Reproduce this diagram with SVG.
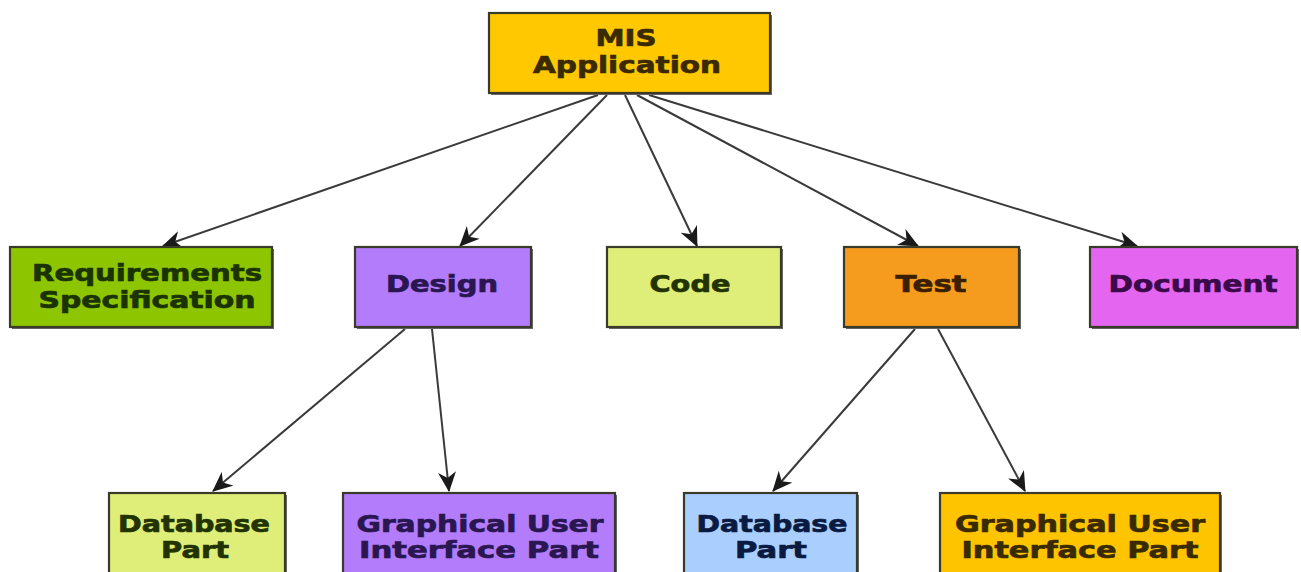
<svg xmlns="http://www.w3.org/2000/svg" width="1301" height="572" viewBox="0 0 1301 572">
  <style>
    .shadow { fill: #6a6a6a; }
    .box { stroke: #3a3a2a; stroke-width: 2.2; }
    .lbl { font-family: "DejaVu Sans", Verdana, "Liberation Sans", sans-serif; font-weight: bold; font-size: 23px; text-anchor: middle; stroke-width: 0.7; }
    .edge { fill: none; stroke: #3a3a3a; stroke-width: 2; marker-end: url(#arrow); }
  </style>
  <defs>
    <marker id="arrow" markerUnits="userSpaceOnUse" markerWidth="22" markerHeight="18" refX="19" refY="9" orient="auto">
      <path d="M0,0 L20,9 L0,18 L6,9 Z" fill="#1a1a1a"/>
    </marker>
  </defs>
  <rect width="1301" height="572" fill="#ffffff"/>

  <!-- connectors -->
  <g id="connectors">
    <line class="edge" x1="598" y1="95" x2="163" y2="246"/>
    <line class="edge" x1="607" y1="95" x2="460" y2="246"/>
    <line class="edge" x1="625" y1="95" x2="697" y2="246"/>
    <line class="edge" x1="637" y1="95" x2="918" y2="246"/>
    <line class="edge" x1="649" y1="95" x2="1137" y2="246"/>
    <line class="edge" x1="405" y1="329" x2="213" y2="491"/>
    <line class="edge" x1="432" y1="329" x2="449" y2="491"/>
    <line class="edge" x1="915" y1="329" x2="773" y2="491"/>
    <line class="edge" x1="938" y1="329" x2="1025" y2="491"/>
  </g>

  <!-- root -->
  <g id="mis">
    <rect class="shadow" x="491" y="15" width="281" height="80"/>
    <rect class="box" x="489" y="13" width="281" height="80" fill="#ffc800"/>
    <text class="lbl" x="626" y="46" fill="#3a2a00" stroke="#3a2a00" textLength="61" lengthAdjust="spacingAndGlyphs">MIS</text>
    <text class="lbl" x="627" y="73" fill="#3a2a00" stroke="#3a2a00" textLength="188" lengthAdjust="spacingAndGlyphs">Application</text>
  </g>

  <!-- second level -->
  <g id="requirements">
    <rect class="shadow" x="12" y="249" width="262" height="80"/>
    <rect class="box" x="10" y="247" width="262" height="80" fill="#8dc600"/>
    <text class="lbl" x="147" y="281" fill="#1a3300" stroke="#1a3300" textLength="230" lengthAdjust="spacingAndGlyphs">Requirements</text>
    <text class="lbl" x="147" y="308" fill="#1a3300" stroke="#1a3300" textLength="217" lengthAdjust="spacingAndGlyphs">Specification</text>
  </g>
  <g id="design">
    <rect class="shadow" x="357" y="249" width="176" height="80"/>
    <rect class="box" x="355" y="247" width="176" height="80" fill="#b27cfa"/>
    <text class="lbl" x="442" y="292" fill="#2a1650" stroke="#2a1650" textLength="112" lengthAdjust="spacingAndGlyphs">Design</text>
  </g>
  <g id="code">
    <rect class="shadow" x="609" y="249" width="174" height="80"/>
    <rect class="box" x="607" y="247" width="174" height="80" fill="#dfee78"/>
    <text class="lbl" x="690" y="292" fill="#223300" stroke="#223300" textLength="81" lengthAdjust="spacingAndGlyphs">Code</text>
  </g>
  <g id="test">
    <rect class="shadow" x="846" y="249" width="175" height="80"/>
    <rect class="box" x="844" y="247" width="175" height="80" fill="#f59c1e"/>
    <text class="lbl" x="931" y="292" fill="#3a2000" stroke="#3a2000" textLength="71" lengthAdjust="spacingAndGlyphs">Test</text>
  </g>
  <g id="document">
    <rect class="shadow" x="1092" y="249" width="207" height="80"/>
    <rect class="box" x="1090" y="247" width="207" height="80" fill="#e466f0"/>
    <text class="lbl" x="1193" y="292" fill="#3a0a4a" stroke="#3a0a4a" textLength="169" lengthAdjust="spacingAndGlyphs">Document</text>
  </g>

  <!-- third level -->
  <g id="design-database">
    <rect class="shadow" x="111" y="495" width="176" height="80"/>
    <rect class="box" x="109" y="493" width="176" height="82" fill="#dfee78"/>
    <text class="lbl" x="194" y="532" fill="#223300" stroke="#223300" textLength="152" lengthAdjust="spacingAndGlyphs">Database</text>
    <text class="lbl" x="195" y="558" fill="#223300" stroke="#223300" textLength="68" lengthAdjust="spacingAndGlyphs">Part</text>
  </g>
  <g id="design-gui">
    <rect class="shadow" x="345" y="495" width="272" height="80"/>
    <rect class="box" x="343" y="493" width="272" height="82" fill="#b27cfa"/>
    <text class="lbl" x="480" y="532" fill="#2a1650" stroke="#2a1650" textLength="247" lengthAdjust="spacingAndGlyphs">Graphical User</text>
    <text class="lbl" x="479" y="558" fill="#2a1650" stroke="#2a1650" textLength="240" lengthAdjust="spacingAndGlyphs">Interface Part</text>
  </g>
  <g id="test-database">
    <rect class="shadow" x="686" y="495" width="173" height="80"/>
    <rect class="box" x="684" y="493" width="173" height="82" fill="#aacfff"/>
    <text class="lbl" x="772" y="532" fill="#0a1a40" stroke="#0a1a40" textLength="151" lengthAdjust="spacingAndGlyphs">Database</text>
    <text class="lbl" x="771" y="558" fill="#0a1a40" stroke="#0a1a40" textLength="72" lengthAdjust="spacingAndGlyphs">Part</text>
  </g>
  <g id="test-gui">
    <rect class="shadow" x="942" y="495" width="280" height="80"/>
    <rect class="box" x="940" y="493" width="280" height="82" fill="#ffc400"/>
    <text class="lbl" x="1080" y="532" fill="#3a2a00" stroke="#3a2a00" textLength="250" lengthAdjust="spacingAndGlyphs">Graphical User</text>
    <text class="lbl" x="1080" y="558" fill="#3a2a00" stroke="#3a2a00" textLength="237" lengthAdjust="spacingAndGlyphs">Interface Part</text>
  </g>
</svg>
